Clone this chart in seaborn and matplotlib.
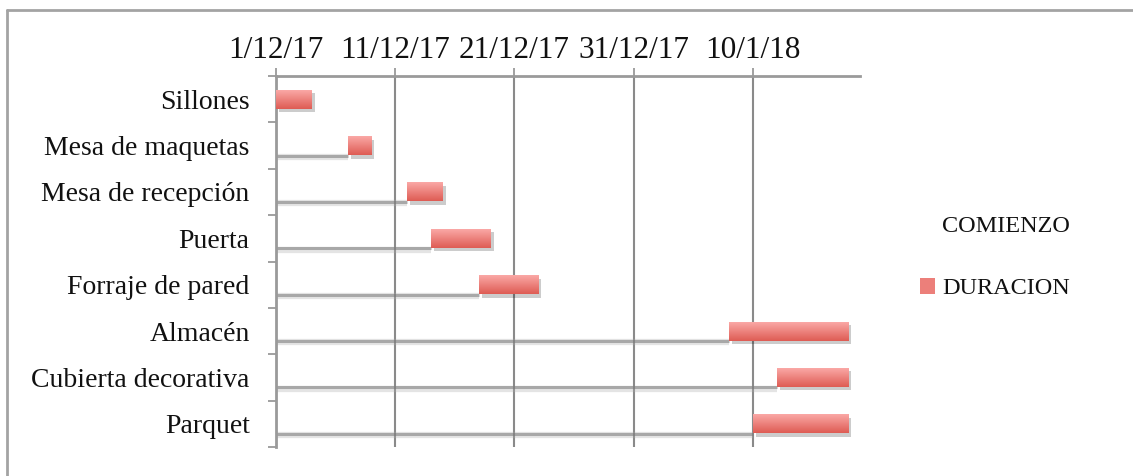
import numpy as np
import pandas as pd
import matplotlib
matplotlib.use("Agg")
import matplotlib.pyplot as plt
import matplotlib.patheffects as pe
from matplotlib.patches import Patch
from matplotlib.lines import Line2D
import seaborn as sns

# ---- data ----
categorias = ["Sillones", "Mesa de maquetas", "Mesa de recepción", "Puerta",
              "Forraje de pared", "Almacén", "Cubierta decorativa", "Parquet"]
comienzo = ["2017-12-01", "2017-12-07", "2017-12-12", "2017-12-14",
            "2017-12-18", "2018-01-08", "2018-01-12", "2018-01-10"]
duracion = [3, 2, 3, 5, 5, 10, 6, 8]
fecha_ticks = ["2017-12-01", "2017-12-11", "2017-12-21", "2017-12-31", "2018-01-10"]
fecha_labels = ["1/12/17", "11/12/17", "21/12/17", "31/12/17", "10/1/18"]
fecha_fin_eje = "2018-01-19"

sns.set_theme(style="white")
plt.rcParams["font.family"] = ["Liberation Serif", "DejaVu Serif"]

origen = pd.Timestamp(fecha_ticks[0])
inicio_dias = [(pd.Timestamp(d) - origen).days for d in comienzo]
df = pd.DataFrame({"tarea": categorias, "inicio": inicio_dias, "duracion": duracion})
tick_pos = [(pd.Timestamp(d) - origen).days for d in fecha_ticks]
xmax = (pd.Timestamp(fecha_fin_eje) - origen).days

W, H = 1133, 476
fig = plt.figure(figsize=(W / 100, H / 100), dpi=100)
ax = fig.add_axes([276 / W, 1 - 447 / H, (860 - 276) / W, (447 - 76) / H])

red_mid = "#EC7F7A"
BAR_W = 0.41
shadow = [pe.SimplePatchShadow(offset=(2.2, -2.5), shadow_rgbFace="black", alpha=0.2),
          pe.Normal()]

# COMIENZO bars: no fill, only the soft shadow line under them
sns.barplot(data=df, y="tarea", x="inicio", orient="h", color="white", width=BAR_W,
            saturation=1, ax=ax, zorder=2)
start_patches = list(ax.patches)
for p in start_patches:
    p.set_facecolor("none")
    p.set_edgecolor("none")
    yb = p.get_y() + p.get_height()
    x0, x1 = p.get_x(), p.get_x() + p.get_width()
    if x1 > x0:
        ax.hlines(yb + 0.04, x0, x1, color="#a8a8a8", linewidth=4.5, alpha=0.3, zorder=2)
        ax.hlines(yb + 0.01, x0, x1, color="#777777", linewidth=2.2, alpha=0.55, zorder=2)

# DURACION bars placed after their start
sns.barplot(data=df, y="tarea", x="duracion", orient="h", color=red_mid, width=BAR_W,
            saturation=1, ax=ax, zorder=3)
red_patches = [p for p in ax.patches if p not in start_patches]
for p, s in zip(red_patches, df["inicio"]):
    p.set_x(s)
    p.set_edgecolor("none")
    p.set_path_effects(shadow)

# gradient fill for red bars
top_c = np.array([252, 172, 170]) / 255
bot_c = np.array([222, 92, 84]) / 255
t = np.linspace(0, 1, 64)[:, None, None]
grad = top_c[None, None, :] * (1 - t) + bot_c[None, None, :] * t
grad = np.repeat(grad, 2, axis=1)
for p in red_patches:
    x0, y0, w, h = p.get_x(), p.get_y(), p.get_width(), p.get_height()
    im = ax.imshow(grad, extent=(x0, x0 + w, y0 + h, y0), origin="upper",
                   aspect="auto", zorder=3.5, interpolation="bilinear")
    im.set_clip_path(p)

n = len(categorias)
ax.set_xlim(0, xmax)
ax.set_ylim(n - 0.5, -0.5)

grid_c = "#8a8a8a"
ax.xaxis.tick_top()
ax.set_xticks(tick_pos)
ax.set_xticklabels(fecha_labels, fontsize=22.5)
ax.set_xlabel("")
ax.set_ylabel("")
ax.tick_params(axis="x", which="major", direction="out", length=6, width=1.3,
               color="#9a9a9a", pad=2, top=True, bottom=False, labeltop=True,
               labelbottom=False)
ax.tick_params(axis="y", which="major", length=0, pad=19, labelsize=20)
ax.set_yticks(np.arange(-0.5, n, 1.0), minor=True)
ax.tick_params(axis="y", which="minor", direction="out", length=6, width=1.3,
               color="#9a9a9a", left=True)
for lbl in ax.get_xticklabels() + ax.get_yticklabels():
    lbl.set_color("#111111")

ax.grid(True, axis="x", color=grid_c, linewidth=1.5, zorder=0)
ax.set_axisbelow(True)
for s in ["right", "bottom"]:
    ax.spines[s].set_visible(False)
for s in ["left", "top"]:
    ax.spines[s].set_color("#9a9a9a")
    ax.spines[s].set_linewidth(2)

# legend
handles = [Patch(facecolor="white", edgecolor="none", label="COMIENZO"),
           Patch(facecolor=red_mid, edgecolor="none", label="DURACION")]
fig.legend(handles=handles, loc="upper left", bbox_to_anchor=(920 / W, 1 - 216 / H),
           frameon=False, fontsize=17.5, handlelength=0.6, handleheight=0.6,
           handletextpad=0.3, labelspacing=1.68, labelcolor="#111111",
           borderpad=0, borderaxespad=0)

# outer chart border (top and left edges visible)
fig.add_artist(Line2D([7 / W, 7 / W], [0, 1 - 10 / H], transform=fig.transFigure,
                      color="#a3a3a3", linewidth=2))
fig.add_artist(Line2D([7 / W, 1], [1 - 10 / H, 1 - 10 / H], transform=fig.transFigure,
                      color="#a3a3a3", linewidth=2))

fig.savefig("out.png", dpi=100, facecolor="white")
